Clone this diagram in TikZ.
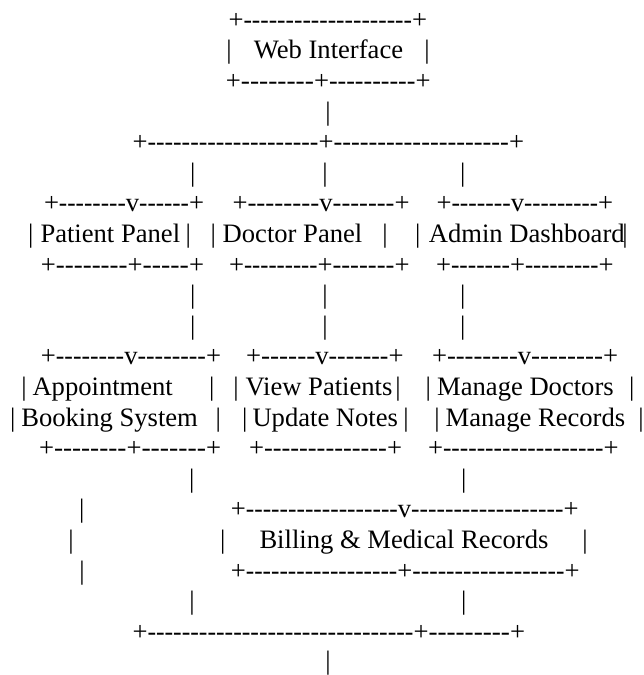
\documentclass[tikz,border=0pt]{standalone}
\usepackage{fontspec}
\usepackage{graphicx}
\newfontfamily\ascfont{Liberation Serif}
\newcounter{nd}
\ExplSyntaxOn
\cs_new:Npn \ascrep #1 { \prg_replicate:nn {#1} { \mbox{-} } }
\ExplSyntaxOff
\tikzset{asc/.style={anchor=base west,inner sep=0pt,outer sep=0pt,font=\ascfont\fontsize{26.6}{30}\selectfont,text=black}}
% piece of text at origin x, row k
\newcommand\ascA[3]{\stepcounter{nd}\node[asc] (n\number\value{nd}) at ({#1},{28.3+30.6*(#2)}) {#3};}
% run of hyphens from x1 to x2 in row k
\newcommand\ascD[3]{%
 \pgfmathsetmacro\dlen{(#2)-(#1)}%
 \pgfmathtruncatemacro\dnum{max(1,round(\dlen/8.6))}%
 \pgfmathsetmacro\dfac{\dlen/(\dnum*8.858)}%
 \stepcounter{nd}\node[asc] (n\number\value{nd}) at ({#1},{28.3+30.6*(#3)}) {\scalebox{\dfac}[1]{\ascrep{\dnum}}};}
\begin{document}
\begin{tikzpicture}[x=1pt,y=-1pt]
\useasboundingbox (0,0) rectangle (643,675);
% row 0
\ascA{228.5}{0}{+}\ascD{243.5}{412.1}{0}\ascA{412.1}{0}{+}
% row 1
\ascA{226.4}{1}{|}\ascA{253.9}{1}{Web Interface}\ascA{424.4}{1}{|}
% row 2
\ascA{225.9}{2}{+}\ascD{240.9}{314}{2}\ascA{314}{2}{+}\ascD{329}{415.5}{2}\ascA{415.5}{2}{+}
% row 3
\ascA{325.4}{3}{|}
% row 4
\ascA{132.5}{4}{+}\ascD{147.5}{318.5}{4}\ascA{318.5}{4}{+}\ascD{333.5}{509}{4}\ascA{509}{4}{+}
% row 5
\ascA{190}{5}{|}\ascA{322.4}{5}{|}\ascA{460}{5}{|}
% row 6
\ascA{44}{6}{+}\ascD{59}{125.9}{6}\ascA{125.9}{6}{v}\ascD{139.2}{189}{6}\ascA{189}{6}{+}
\ascA{232.5}{6}{+}\ascD{247.5}{319.4}{6}\ascA{319.4}{6}{v}\ascD{332.7}{394.5}{6}\ascA{394.5}{6}{+}
\ascA{436.5}{6}{+}\ascD{451.5}{510.9}{6}\ascA{510.9}{6}{v}\ascD{524.2}{598}{6}\ascA{598}{6}{+}
% row 7
\ascA{28}{7}{|}\ascA{40.5}{7}{Patient Panel}\ascA{185.5}{7}{|}
\ascA{210.7}{7}{|}\ascA{222.7}{7}{Doctor Panel}\ascA{382.4}{7}{|}
\ascA{415.1}{7}{|}\ascA{428.9}{7}{Admin Dashboard}\ascA{622.4}{7}{|}
% row 8
\ascA{40.9}{8}{+}\ascD{55.9}{127.6}{8}\ascA{127.6}{8}{+}\ascD{142.6}{189}{8}\ascA{189}{8}{+}
\ascA{229}{8}{+}\ascD{244}{317.5}{8}\ascA{317.5}{8}{+}\ascD{332.5}{394.5}{8}\ascA{394.5}{8}{+}
\ascA{436}{8}{+}\ascD{451}{510}{8}\ascA{510}{8}{+}\ascD{525}{598.5}{8}\ascA{598.5}{8}{+}
% rows 9, 10
\ascA{190}{9}{|}\ascA{322.4}{9}{|}\ascA{460}{9}{|}
\ascA{190}{10}{|}\ascA{322.4}{10}{|}\ascA{460}{10}{|}
% row 11
\ascA{40.9}{11}{+}\ascD{55.9}{124.3}{11}\ascA{124.3}{11}{v}\ascD{137.6}{206}{11}\ascA{206}{11}{+}
\ascA{246}{11}{+}\ascD{261}{315.4}{11}\ascA{315.4}{11}{v}\ascD{328.7}{388.5}{11}\ascA{388.5}{11}{+}
\ascA{432}{11}{+}\ascD{447}{517.9}{11}\ascA{517.9}{11}{v}\ascD{531.2}{603}{11}\ascA{603}{11}{+}
% row 12
\ascA{21.4}{12}{|}\ascA{32.5}{12}{Appointment}\ascA{209.1}{12}{|}
\ascA{233.4}{12}{|}\ascA{245.6}{12}{View Patients}\ascA{395.4}{12}{|}
\ascA{425.7}{12}{|}\ascA{437.2}{12}{Manage Doctors}\ascA{629.1}{12}{|}
% row 13
\ascA{10.1}{13}{|}\ascA{21.3}{13}{Booking System}\ascA{215.7}{13}{|}
\ascA{242}{13}{|}\ascA{252.5}{13}{Update Notes}\ascA{403.4}{13}{|}
\ascA{434.4}{13}{|}\ascA{445.7}{13}{Manage Records}\ascA{638.4}{13}{|}
% row 14
\ascA{39}{14}{+}\ascD{54}{126.5}{14}\ascA{126.5}{14}{+}\ascD{141.5}{206}{14}\ascA{206}{14}{+}
\ascA{249}{14}{+}\ascD{264}{387}{14}\ascA{387}{14}{+}
\ascA{428}{14}{+}\ascD{443}{603.5}{14}\ascA{603.5}{14}{+}
% row 15
\ascA{189.1}{15}{|}\ascA{461.1}{15}{|}
% row 16
\ascA{79.1}{16}{|}\ascA{230.9}{16}{+}\ascD{245.9}{397.9}{16}\ascA{397.9}{16}{v}\ascD{411.2}{563.5}{16}\ascA{563.5}{16}{+}
% row 17
\ascA{68.4}{17}{|}\ascA{220.1}{17}{|}\ascA{259.5}{17}{Billing \& Medical Records}\ascA{582.4}{17}{|}
% row 18
\ascA{79.4}{18}{|}\ascA{230.9}{18}{+}\ascD{245.9}{397.4}{18}\ascA{397.4}{18}{+}\ascD{412.4}{564.5}{18}\ascA{564.5}{18}{+}
% row 19
\ascA{189.4}{19}{|}\ascA{461.1}{19}{|}
% row 20
\ascA{132.5}{20}{+}\ascD{147.5}{413.5}{20}\ascA{413.5}{20}{+}\ascD{428.5}{510}{20}\ascA{510}{20}{+}
% row 21
\ascA{325.4}{20.94}{|}
\end{tikzpicture}
\end{document}
